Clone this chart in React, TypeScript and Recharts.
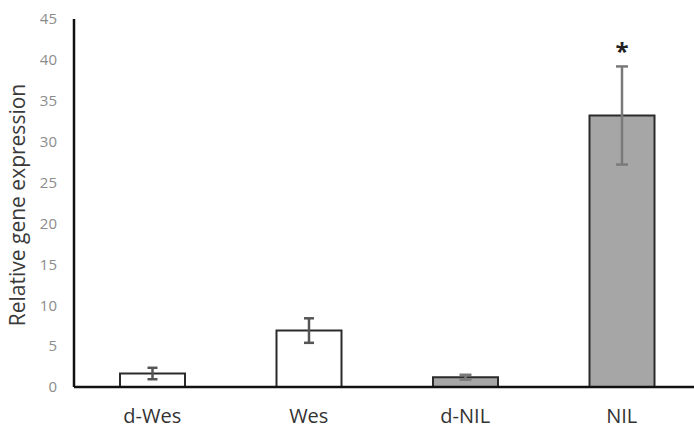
import React from 'react';
import { BarChart, Bar, XAxis, YAxis, ErrorBar, Cell, LabelList } from 'recharts';

const categories = ['d-Wes', 'Wes', 'd-NIL', 'NIL'];
const means = [1.65, 6.9, 1.2, 33.2];
const errWhite = [0.7, 1.5, null, null];
const errGray = [null, null, 0.3, 6.0];
const marks = ['', '', '', '*'];
const fills = ['#ffffff', '#ffffff', '#a6a6a6', '#a6a6a6'];
const yTicks = [0, 5, 10, 15, 20, 25, 30, 35, 40, 45];

const data = categories.map((name, i) => ({
  name,
  value: means[i],
  errW: errWhite[i],
  errG: errGray[i],
  mark: marks[i],
}));

const font = '"Open Sans", sans-serif';

const renderYLabel = () => (
  <text
    x={17}
    y={205}
    transform="rotate(-90 17 205)"
    textAnchor="middle"
    dominantBaseline="central"
    fontFamily={font}
    fontSize={21}
    fill="#3a3a3a"
  >
    Relative gene expression
  </text>
);

export default function App() {
  return (
    <div style={{ position: 'absolute', left: 0, top: 0, width: 694, height: 429, overflow: 'hidden', background: '#fff' }}>
      <BarChart
        width={700}
        height={429}
        data={data}
        margin={{ top: 19, right: 0, bottom: 0, left: 0 }}
      >
        <XAxis
          dataKey="name"
          axisLine={{ stroke: '#111', strokeWidth: 2.5 }}
          tickLine={false}
          tickMargin={16}
          height={42}
          tick={{ fontFamily: font, fontSize: 20, fill: '#333' }}
        />
        <YAxis
          domain={[0, 45]}
          ticks={yTicks}
          width={74}
          axisLine={{ stroke: '#111', strokeWidth: 2.5 }}
          tickLine={false}
          tickMargin={11}
          tick={{ fontFamily: font, fontSize: 15, fill: '#8c8c8c' }}
          label={renderYLabel}
        />
        <Bar dataKey="value" barSize={65} stroke="#2b2b2b" strokeWidth={2} isAnimationActive={false}>
          {data.map((d, i) => (
            <Cell key={d.name} fill={fills[i]} />
          ))}
          <ErrorBar dataKey="errW" width={5} stroke="#555" strokeWidth={2.5} isAnimationActive={false} />
          <ErrorBar dataKey="errG" width={6} stroke="#7a7a7a" strokeWidth={2.5} isAnimationActive={false} />
          <LabelList
            dataKey="mark"
            position="top"
            offset={55}
            style={{ fontFamily: font, fontSize: 24, fontWeight: 700, fill: '#222' }}
          />
        </Bar>
      </BarChart>
    </div>
  );
}
